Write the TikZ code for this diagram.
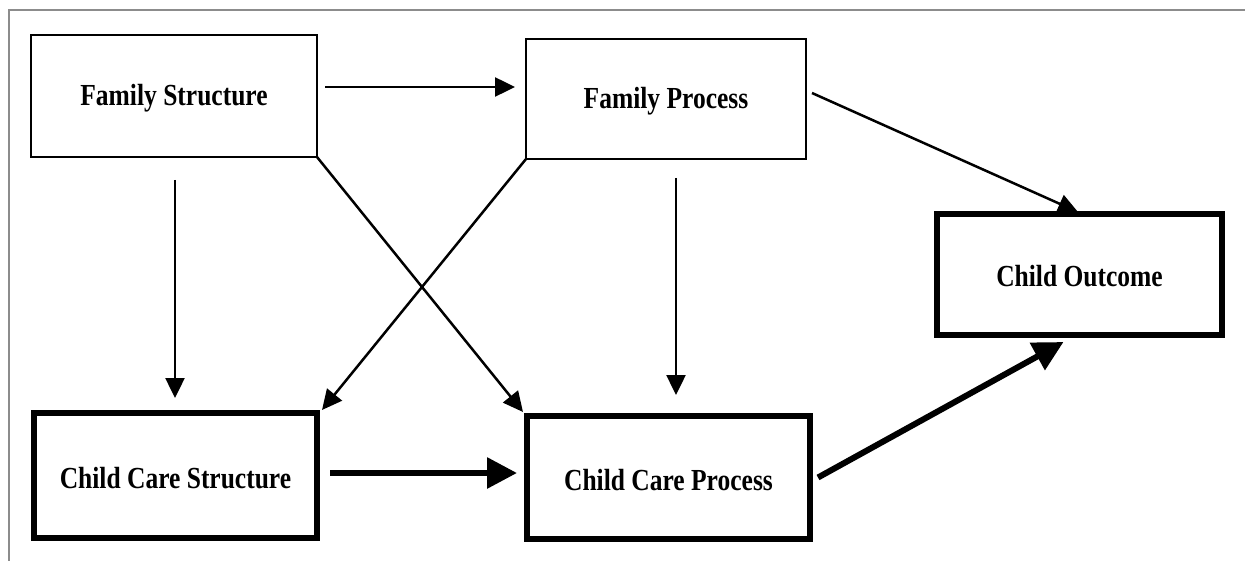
\documentclass[tikz,border=0pt]{standalone}
\usepackage{fontspec}
\usepackage{graphicx}
\setmainfont{Liberation Serif}
\usetikzlibrary{arrows.meta}
\newcommand{\tallbold}[1]{\scalebox{1}[1.2]{\bfseries #1}}
\begin{document}
\begin{tikzpicture}[x=1pt,y=-1pt,
  boxtext/.style={outer sep=0pt,inner sep=0pt,text depth=0pt,font=\fontsize{25.5}{30}\selectfont},
  thinbox/.style={draw,line width=2.5pt,boxtext,text height=20pt},
  thickbox/.style={draw,line width=6pt,boxtext,text height=25pt},
  thinarrow/.style={line width=2.5pt,-{Triangle[length=20pt,width=19pt]}},
  thickarrow/.style={line width=6pt,-{Triangle[length=30pt,width=30pt]}},
  frameline/.style={draw=black!45,line width=1.5pt}]
\useasboundingbox (0,0) rectangle (1245,561);
\fill[white] (0,0) rectangle (1245,561);
\coordinate (ftl) at (9,10);
\coordinate (ftr) at (1245,10);
\coordinate (fbl) at (9,561);
\draw[frameline] (ftr) -- (ftl) -- (fbl);

\node[thinbox,minimum width=286pt,minimum height=122pt] (FS) at (174,96) {\tallbold{Family Structure}};
\node[thinbox,minimum width=280pt,minimum height=120pt] (FP) at (666,99) {\tallbold{Family Process}};
\node[thickbox,minimum width=285pt,minimum height=121pt] (CO) at (1079.5,274.5) {\tallbold{Child Outcome}};
\node[thickbox,minimum width=283pt,minimum height=125pt] (CCS) at (175.5,475.5) {\tallbold{Child Care Structure}};
\node[thickbox,minimum width=283pt,minimum height=123pt] (CCP) at (668.5,477.5) {\tallbold{Child Care Process}};

\draw[thinarrow] ([xshift=8pt,yshift=9pt]FS.east) -- ([xshift=-11pt,yshift=12pt]FP.west);
\draw[thinarrow] ([xshift=1pt,yshift=-23pt]FS.south) -- ([xshift=-0.5pt,yshift=15pt]CCS.north);
\draw[thinarrow] (FS.south east) -- ([xshift=-4pt,yshift=4pt]CCP.north west);
\draw[thinarrow] (FP.south west) -- ([xshift=5pt,yshift=3pt]CCS.north east);
\draw[thinarrow] ([xshift=10pt,yshift=-19pt]FP.south) -- ([xshift=7.5pt,yshift=21pt]CCP.north);
\draw[thinarrow] ([xshift=6pt,yshift=6pt]FP.east) -- ([xshift=-1.5pt,yshift=2pt]CO.north);
\draw[thickarrow] ([xshift=13pt,yshift=2.5pt]CCS.east) -- ([xshift=-10pt,yshift=4.5pt]CCP.west);
\draw[thickarrow] ([xshift=8pt]CCP.east) -- ([xshift=-16pt,yshift=-7pt]CO.south);
\end{tikzpicture}
\end{document}
